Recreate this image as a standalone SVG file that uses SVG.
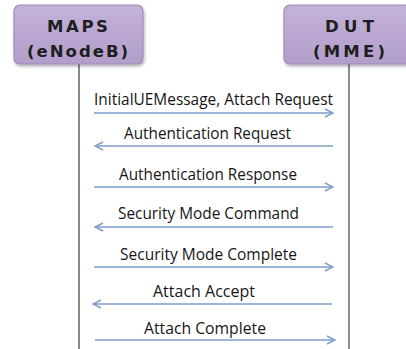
<svg xmlns="http://www.w3.org/2000/svg" width="406" height="349" viewBox="0 0 406 349">
<style>
.box{fill:url(#g);stroke:#a08cb8;stroke-width:1.2}
.bt{font-family:"DejaVu Sans",sans-serif;font-weight:bold;font-size:16.5px;fill:#1e1e1e;text-anchor:middle}
.life{stroke:#8a8a8a;stroke-width:2}
.msg{stroke:#7c9ccc;stroke-width:1.4;fill:none}
.lbl{font-family:"Open Sans","Liberation Sans",sans-serif;font-size:15.5px;font-weight:500;fill:#161616;text-anchor:middle}
</style>
<defs>
<linearGradient id="g" x1="0" y1="0" x2="0" y2="1">
<stop offset="0" stop-color="#c3b2d8"/>
<stop offset="1" stop-color="#b29ecb"/>
</linearGradient>
<filter id="sh" x="-10%" y="-10%" width="130%" height="140%">
<feDropShadow dx="1" dy="2" stdDeviation="1.5" flood-color="#000" flood-opacity="0.3"/>
</filter>
<marker id="ah" viewBox="0 0 10 10" refX="9" refY="5" markerWidth="10" markerHeight="10" markerUnits="userSpaceOnUse" orient="auto-start-reverse">
<path d="M1,1 L9,5 L1,9" fill="none" stroke="#7c9ccc" stroke-width="1.4"/>
</marker>
</defs>
<g id="lifelines">
<line class="life" x1="79" y1="64" x2="79" y2="349"/>
<line class="life" x1="349" y1="64" x2="349" y2="349"/>
</g>
<g id="maps">
<rect class="box" x="14" y="5" width="129" height="59" rx="6" filter="url(#sh)"/>
<text class="bt" x="77.5" y="32" textLength="61" lengthAdjust="spacing">MAPS</text>
<text class="bt" x="77.5" y="57" textLength="101" lengthAdjust="spacing">(eNodeB)</text>
</g>
<g id="dut">
<rect class="box" x="284" y="5" width="132" height="59" rx="6" filter="url(#sh)"/>
<text class="bt" x="349.5" y="32" textLength="49" lengthAdjust="spacing">DUT</text>
<text class="bt" x="349" y="57" textLength="72" lengthAdjust="spacing">(MME)</text>
</g>
<g id="connectors">
<line class="msg" x1="94" y1="113" x2="333" y2="113" marker-end="url(#ah)"/>
<line class="msg" x1="333" y1="146" x2="95" y2="146" marker-end="url(#ah)"/>
<line class="msg" x1="94" y1="187" x2="333" y2="187" marker-end="url(#ah)"/>
<line class="msg" x1="333" y1="227" x2="95" y2="227" marker-end="url(#ah)"/>
<line class="msg" x1="94" y1="267" x2="333" y2="267" marker-end="url(#ah)"/>
<line class="msg" x1="332" y1="304" x2="93" y2="304" marker-end="url(#ah)"/>
<line class="msg" x1="95" y1="340" x2="335" y2="340" marker-end="url(#ah)"/>
</g>
<g id="labels">
<text class="lbl" x="213.5" y="105" textLength="239" lengthAdjust="spacingAndGlyphs">InitialUEMessage, Attach Request</text>
<text class="lbl" x="207.5" y="139" textLength="167" lengthAdjust="spacingAndGlyphs">Authentication Request</text>
<text class="lbl" x="208" y="180" textLength="178" lengthAdjust="spacingAndGlyphs">Authentication Response</text>
<text class="lbl" x="208.5" y="219" textLength="181" lengthAdjust="spacingAndGlyphs">Security Mode Command</text>
<text class="lbl" x="208.5" y="260" textLength="177" lengthAdjust="spacingAndGlyphs">Security Mode Complete</text>
<text class="lbl" x="204" y="297" textLength="102" lengthAdjust="spacingAndGlyphs">Attach  Accept</text>
<text class="lbl" x="205" y="334" textLength="122" lengthAdjust="spacingAndGlyphs">Attach  Complete</text>
</g>
</svg>
